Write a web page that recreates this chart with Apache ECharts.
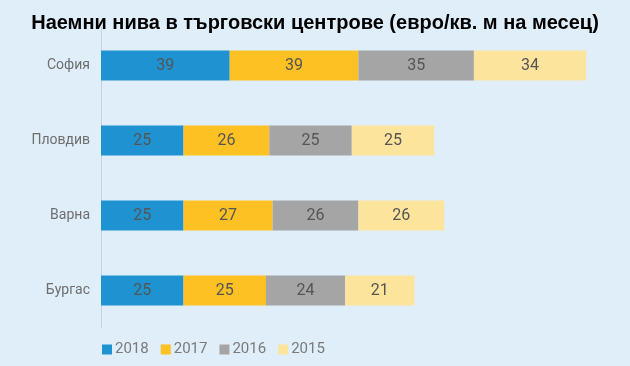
<!DOCTYPE html>
<html><head><meta charset="utf-8">
<script src="https://cdn.jsdelivr.net/npm/echarts@6/dist/echarts.min.js"></script>
<style>html,body{margin:0;padding:0;background:#dfeef8;}#c{width:630px;height:366px;}</style>
</head><body><div id="c"></div>
<script>
const titleText = 'Наемни нива в търговски центрове (евро/кв. м на месец)';
const categories = ['София', 'Пловдив', 'Варна', 'Бургас'];
const seriesNames = ['2018', '2017', '2016', '2015'];
const v2018 = [39, 25, 25, 25];
const v2017 = [39, 26, 27, 25];
const v2016 = [35, 25, 26, 24];
const v2015 = [34, 25, 26, 21];
const colors = ['#1f93d1', '#fdc123', '#a6a5a6', '#fde49d'];
const values = [v2018, v2017, v2016, v2015];

const chart = echarts.init(document.getElementById('c'));
chart.setOption({
  backgroundColor: '#dfeef8',
  animation: false,
  title: {
    text: titleText, left: 'center', top: 8,
    textStyle: { fontFamily: 'Liberation Sans, Arial', fontWeight: 'bold', fontSize: 20, color: '#000' }
  },
  legend: {
    data: seriesNames, left: 97, top: 337, itemWidth: 10, itemHeight: 10, itemGap: 12,
    icon: 'rect',
    textStyle: { color: '#7a7a7a', fontSize: 15, fontFamily: 'Roboto, Noto Sans', padding: [0,0,0,-2] }
  },
  grid: { left: 101, right: 34, top: 28, bottom: 38 },
  xAxis: { type: 'value', min: 0, max: 150, show: false },
  yAxis: {
    type: 'category', data: categories, inverse: true,
    axisLine: { show: true, lineStyle: { color: '#c8d0d8' } },
    axisTick: { show: false },
    axisLabel: { color: '#6e6e6e', fontSize: 14, margin: 11, fontFamily: 'Roboto, Noto Sans' }
  },
  series: seriesNames.map((n, i) => ({
    name: n, type: 'bar', stack: 'total', data: values[i], barWidth: 30,
    itemStyle: { color: colors[i] },
    label: { show: true, position: 'inside', color: '#555', fontSize: 16, fontFamily: 'Roboto, Noto Sans' }
  }))
});
</script></body></html>
